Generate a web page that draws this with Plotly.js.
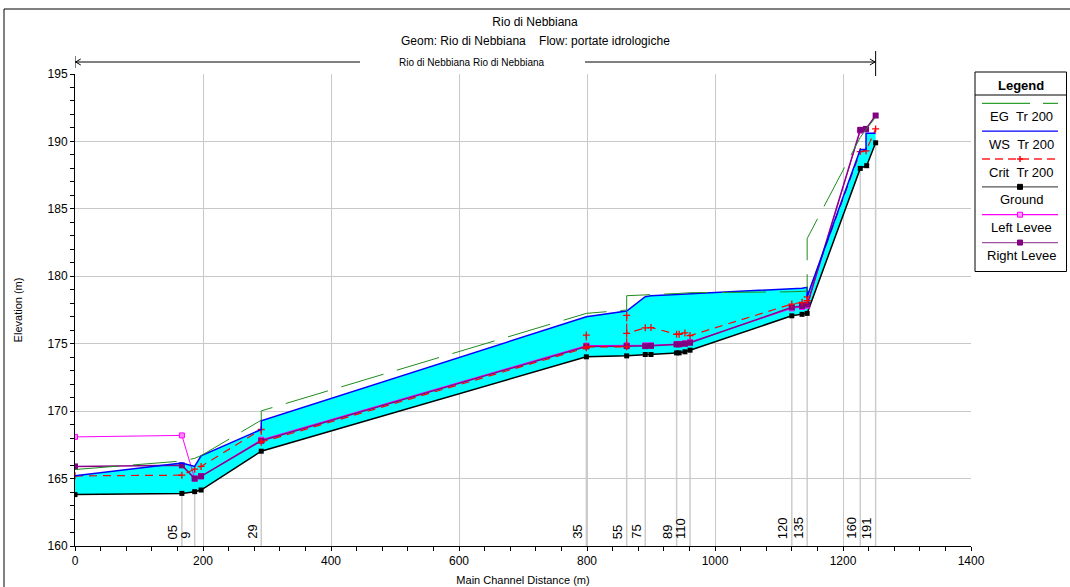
<!DOCTYPE html>
<html>
<head>
<meta charset="utf-8">
<script src="https://cdn.plot.ly/plotly-3.0.1.min.js"></script>
<style>
  html, body { margin: 0; padding: 0; background: #ffffff; }
  #chart { width: 1070px; height: 587px; }
</style>
</head>
<body>
<div id="chart"></div>
<script>
// Longitudinal profile of Rio di Nebbiana, Tr 200 event

// Ground (channel invert) along the main channel
const groundSta  = [0, 167, 187, 197, 291, 799, 862, 891, 900, 940, 944, 953, 961, 1120, 1136, 1144, 1227, 1237, 1251];
const groundElev = [163.81, 163.90, 164.03, 164.15, 167.03, 174.03, 174.10, 174.20, 174.20, 174.32, 174.32, 174.40, 174.52, 177.07, 177.18, 177.25, 188.00, 188.20, 189.90];

// Water surface, Tr 200
const wsSta  = [0, 167, 187, 197, 291, 291, 799, 862, 891, 900, 940, 944, 953, 961, 1120, 1136, 1144, 1144, 1227, 1236, 1236, 1251];
const wsElev = [165.20, 166.16, 165.90, 166.68, 168.64, 169.28, 177.00, 177.42, 178.48, 178.55, 178.65, 178.66, 178.68, 178.70, 179.05, 179.12, 179.18, 178.50, 189.40, 189.40, 190.60, 190.60];

// Energy grade line, Tr 200
const egSta  = [0, 167, 187, 197, 291, 291, 799, 862, 862, 891, 900, 940, 944, 953, 961, 1120, 1136, 1144, 1144, 1227, 1236, 1251];
const egElev = [165.67, 166.30, 166.50, 166.70, 169.33, 170.02, 177.25, 177.50, 178.56, 178.60, 178.62, 178.72, 178.73, 178.75, 178.78, 178.85, 178.88, 178.90, 182.80, 190.30, 190.90, 191.80];

// Critical depth elevation, Tr 200
const critSta  = [0, 167, 187, 197, 291, 291, 799, 799, 799, 862, 862, 862, 891, 900, 940, 944, 953, 961, 1120, 1136, 1144, 1144, 1227, 1236, 1251];
const critElev = [165.20, 165.25, 165.70, 165.90, 168.64, 167.70, 174.70, 175.64, 174.77, 174.77, 177.10, 175.76, 176.18, 176.20, 175.70, 175.70, 175.80, 175.60, 177.94, 178.07, 178.20, 178.48, 189.25, 189.30, 190.93];

// Levee crests
const leftLeveeSta  = [0, 167, 187, 197, 291, 799, 862, 891, 900, 940, 944, 953, 961, 1120, 1136, 1144, 1227, 1236];
const leftLeveeElev = [168.09, 168.20, 165.00, 165.17, 167.88, 174.86, 174.88, 174.88, 174.88, 174.98, 174.98, 175.03, 175.12, 177.62, 177.72, 177.82, 190.80, 190.90];
const rightLeveeSta  = [0, 167, 187, 197, 291, 799, 862, 891, 900, 940, 944, 953, 961, 1120, 1136, 1144, 1227, 1236, 1251];
const rightLeveeElev = [165.90, 165.98, 165.00, 165.17, 167.80, 174.80, 174.82, 174.82, 174.84, 174.95, 174.95, 175.00, 175.07, 177.70, 177.80, 177.90, 190.86, 190.93, 191.92];

// Labelled cross sections
const xsSta   = [167, 187, 291, 799, 862, 891, 940, 961, 1120, 1144, 1227, 1251];
const xsLabel = ['05', '9', '29', '35', '55', '75', '89', '110', '120', '135', '160', '191'];

// Legend entries
const legendNames = ['EG\u00a0\u00a0Tr 200', 'WS\u00a0\u00a0Tr 200', 'Crit\u00a0\u00a0Tr 200', 'Ground', 'Left Levee', 'Right Levee'];

const FONT = 'Liberation Sans, Arial, sans-serif';
const BOTTOM = 160;

// page-pixel helpers for the frame, header and legend
const PL = 75, PR = 971, PT = 74, PB = 546;
const px = v => (v - PL) / (PR - PL);
const py = v => (PB - v) / (PB - PT);

function groundAt(s) {
  const i = groundSta.indexOf(s);
  return i >= 0 ? groundElev[i] : BOTTOM;
}

// vertical cross-section markers from the axis up to the invert
const xsX = [], xsY = [];
xsSta.forEach(s => { xsX.push(s, s, null); xsY.push(BOTTOM, groundAt(s), null); });

const traces = [
  { x: xsX, y: xsY, mode: 'lines', line: { color: '#cccccc', width: 1.5 }, hoverinfo: 'skip' },
  { x: groundSta, y: groundElev, mode: 'lines', line: { width: 0 }, hoverinfo: 'skip' },
  { x: wsSta, y: wsElev, mode: 'lines', fill: 'tonexty', fillcolor: '#00ffff', line: { width: 0 }, hoverinfo: 'skip' },
  { name: 'Ground', x: groundSta, y: groundElev, mode: 'lines+markers',
    line: { color: '#000000', width: 1.5 },
    marker: { symbol: 'square', size: 5, color: '#000000' } },
  { name: 'Left Levee', x: leftLeveeSta, y: leftLeveeElev, mode: 'lines+markers',
    line: { color: '#ff00ff', width: 1 },
    marker: { symbol: 'square', size: 5, color: '#ff88ff', line: { color: '#ff00ff', width: 1 } } },
  { name: 'Right Levee', x: rightLeveeSta, y: rightLeveeElev, mode: 'lines+markers',
    line: { color: '#8b008b', width: 1.5 },
    marker: { symbol: 'square', size: 6, color: '#800080' } },
  { name: 'Crit Tr 200', x: critSta, y: critElev, mode: 'lines+markers',
    line: { color: '#ff0000', width: 1.2, dash: '8px,6px' },
    marker: { symbol: 'cross-thin', size: 5, color: '#ff0000', line: { color: '#ff0000', width: 1.3 } } },
  { name: 'WS Tr 200', x: wsSta, y: wsElev, mode: 'lines',
    line: { color: '#0000ff', width: 1.5 } },
  { name: 'EG Tr 200', x: egSta, y: egElev, mode: 'lines',
    line: { color: '#1e8c1e', width: 1, dash: '44px,14px' } }
];

const shapes = [];
const annotations = [];

// outer frame
shapes.push({ type: 'rect', xref: 'paper', yref: 'paper', x0: px(4), x1: px(1080), y0: py(600), y1: py(9),
  line: { color: '#000000', width: 1 }, fillcolor: 'rgba(0,0,0,0)' });

// reach arrow along the top
const reachStart = groundSta[0], reachEnd = groundSta[groundSta.length - 1];
const aY = py(62);
shapes.push({ type: 'line', xref: 'x', yref: 'paper', x0: reachStart, x1: reachEnd, y0: aY, y1: aY, line: { color: '#000000', width: 1 } });
shapes.push({ type: 'rect', xref: 'paper', yref: 'paper', x0: px(360), x1: px(585), y0: py(66), y1: py(58), line: { width: 0 }, fillcolor: '#ffffff' });
shapes.push({ type: 'line', xref: 'x', yref: 'paper', x0: reachStart, x1: reachStart, y0: py(68), y1: py(56), line: { color: '#000000', width: 1 } });
shapes.push({ type: 'line', xref: 'x', yref: 'paper', x0: reachEnd, x1: reachEnd, y0: py(76), y1: py(51), line: { color: '#000000', width: 1 } });
const ah = 9;   // arrowhead length in metres along x
shapes.push({ type: 'path', xref: 'x', yref: 'paper',
  path: `M ${reachStart + ah} ${py(59)} L ${reachStart + 1} ${aY} L ${reachStart + ah} ${py(65)}`,
  line: { color: '#000000', width: 1 } });
shapes.push({ type: 'path', xref: 'x', yref: 'paper',
  path: `M ${reachEnd - ah} ${py(59)} L ${reachEnd - 1} ${aY} L ${reachEnd - ah} ${py(65)}`,
  line: { color: '#000000', width: 1 } });
annotations.push({ xref: 'paper', yref: 'paper', x: px(472), y: aY, text: 'Rio di Nebbiana Rio di Nebbiana',
  showarrow: false, xanchor: 'center', yanchor: 'middle', font: { family: FONT, size: 10, color: '#000000' } });

// subtitle
annotations.push({ xref: 'paper', yref: 'paper', x: px(535), y: py(41),
  text: 'Geom: Rio di Nebbiana\u00a0\u00a0\u00a0\u00a0Flow: portate idrologiche',
  showarrow: false, xanchor: 'center', yanchor: 'middle', font: { family: FONT, size: 12, color: '#000000' } });

// cross-section labels
xsSta.forEach((s, i) => {
  annotations.push({ xref: 'x', yref: 'paper', x: s, y: 0, xanchor: 'right', yanchor: 'bottom',
    xshift: 0, yshift: 5, textangle: -90, text: xsLabel[i], showarrow: false,
    font: { family: FONT, size: 13, color: '#000000' } });
});

// legend box
const LX0 = 975, LX1 = 1066.5, LY0 = 72, LY1 = 271.5;
shapes.push({ type: 'rect', xref: 'paper', yref: 'paper', x0: px(LX0), x1: px(LX1), y0: py(LY1), y1: py(LY0),
  line: { color: '#000000', width: 1 }, fillcolor: '#ffffff' });
shapes.push({ type: 'line', xref: 'paper', yref: 'paper', x0: px(LX0), x1: px(LX1), y0: py(95), y1: py(95),
  line: { color: '#000000', width: 1 } });
annotations.push({ xref: 'paper', yref: 'paper', x: px(1021), y: py(85), text: '<b>Legend</b>', showarrow: false,
  xanchor: 'center', yanchor: 'middle', font: { family: FONT, size: 13, color: '#000000' } });

const legendStyle = [
  { color: '#2e9e2e', dash: '48px,13px', width: 1.3 },
  { color: '#0000ff', dash: 'solid', width: 1.3 },
  { color: '#ff2020', dash: '8px,5px', width: 1.3 },
  { color: '#555555', dash: 'solid', width: 1.3 },
  { color: '#ff00ff', dash: 'solid', width: 1.3 },
  { color: '#a050a0', dash: 'solid', width: 1.3 }
];
const lx0 = 982, lx1 = 1058, lmid = 1020;
legendNames.forEach((name, i) => {
  const lineY = 103.3 + i * 27.85;
  const textY = 116.5 + i * 27.75;
  const st = legendStyle[i];
  shapes.push({ type: 'line', xref: 'paper', yref: 'paper', x0: px(lx0), x1: px(lx1), y0: py(lineY), y1: py(lineY),
    line: { color: st.color, width: st.width, dash: st.dash } });
  if (i === 2) {
    shapes.push({ type: 'line', xref: 'paper', yref: 'paper', x0: px(lmid - 3), x1: px(lmid + 3), y0: py(lineY), y1: py(lineY), line: { color: '#ff0000', width: 1.5 } });
    shapes.push({ type: 'line', xref: 'paper', yref: 'paper', x0: px(lmid), x1: px(lmid), y0: py(lineY - 3), y1: py(lineY + 3), line: { color: '#ff0000', width: 1.5 } });
  } else if (i >= 3) {
    const fill = ['#000000', '#ff99ff', '#800080'][i - 3];
    const edge = ['#000000', '#ff00ff', '#800080'][i - 3];
    shapes.push({ type: 'rect', xref: 'paper', yref: 'paper', x0: px(lmid - 2.5), x1: px(lmid + 2.5), y0: py(lineY + 2.5), y1: py(lineY - 2.5),
      line: { color: edge, width: 1 }, fillcolor: fill });
  }
  annotations.push({ xref: 'paper', yref: 'paper', x: px(1021), y: py(textY), text: name, showarrow: false,
    xanchor: 'center', yanchor: 'middle', font: { family: FONT, size: 13, color: '#000000' } });
});

const layout = {
  width: 1070, height: 587,
  margin: { l: PL, r: 1070 - PR, t: PT, b: 587 - PB, pad: 0 },
  paper_bgcolor: '#ffffff', plot_bgcolor: '#ffffff',
  showlegend: false,
  font: { family: FONT, size: 12, color: '#000000' },
  title: { text: 'Rio di Nebbiana', x: 535 / 1070, xanchor: 'center',
    y: 1 - 22 / 587, yanchor: 'middle', yref: 'container', xref: 'container',
    font: { family: FONT, size: 12, color: '#000000' } },
  xaxis: {
    range: [0, 1400], tick0: 0, dtick: 200, ticks: 'outside', ticklen: 4, tickcolor: '#000000',
    showline: true, linecolor: '#000000', linewidth: 1, mirror: false,
    showgrid: true, gridcolor: '#c8c8c8', gridwidth: 1, zeroline: false,
    minor: { dtick: 40, ticks: 'outside', ticklen: 4, tickcolor: '#000000', showgrid: false },
    tickfont: { family: FONT, size: 12, color: '#000000' },
    title: { text: 'Main Channel Distance (m)', font: { family: FONT, size: 11, color: '#000000' }, standoff: 8 },
    fixedrange: true
  },
  yaxis: {
    range: [160, 195], tick0: 160, dtick: 5, ticks: 'outside', ticklen: 4, tickcolor: '#000000',
    showline: true, linecolor: '#000000', linewidth: 1, mirror: false,
    showgrid: true, gridcolor: '#c8c8c8', gridwidth: 1, zeroline: false,
    minor: { dtick: 1, ticks: 'outside', ticklen: 4, tickcolor: '#000000', showgrid: false },
    tickfont: { family: FONT, size: 12, color: '#000000' },
    title: { text: 'Elevation (m)', font: { family: FONT, size: 11, color: '#000000' }, standoff: 22 },
    fixedrange: true
  },
  shapes: shapes,
  annotations: annotations
};

Plotly.newPlot('chart', traces, layout, { displayModeBar: false, staticPlot: true });
</script>
</body>
</html>
